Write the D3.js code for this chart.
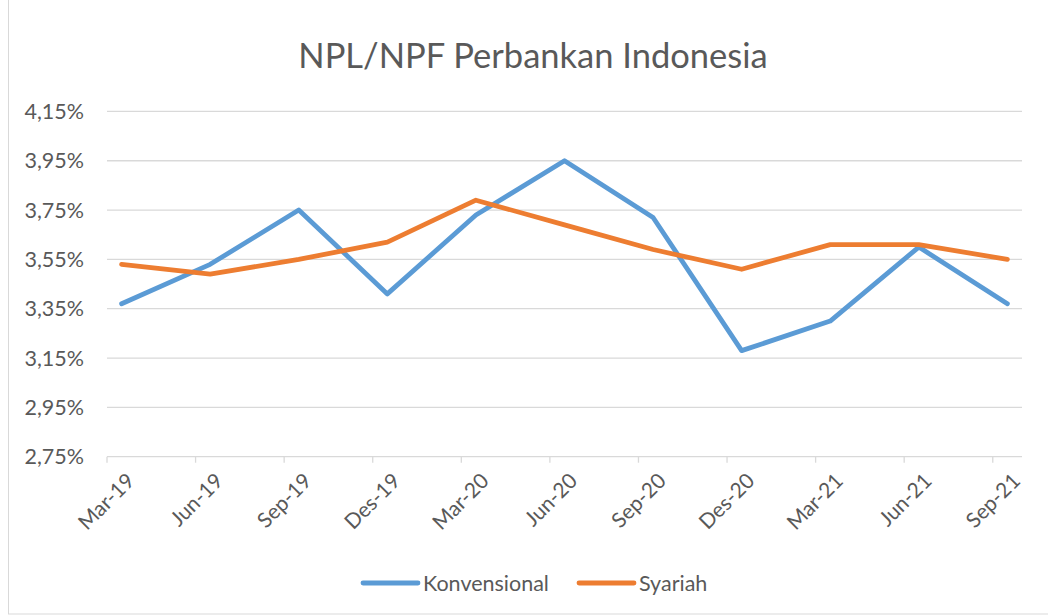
<!DOCTYPE html>
<html>
<head>
<meta charset="utf-8">
<script src="https://cdn.jsdelivr.net/npm/d3@7"></script>
<style>
  html, body { margin: 0; padding: 0; background: #fff; }
  svg text { font-family: Lato, "Open Sans", sans-serif; fill: #595959; }
</style>
</head>
<body>
<div id="chart"></div>
<script>
// data
var categories = ["Mar-19", "Jun-19", "Sep-19", "Des-19", "Mar-20", "Jun-20",
                  "Sep-20", "Des-20", "Mar-21", "Jun-21", "Sep-21"];
var konvensional = [3.37, 3.53, 3.75, 3.41, 3.73, 3.95, 3.72, 3.18, 3.30, 3.60, 3.37];
var syariah      = [3.53, 3.49, 3.55, 3.62, 3.79, 3.69, 3.59, 3.51, 3.61, 3.61, 3.55];
var yTicks = [2.75, 2.95, 3.15, 3.35, 3.55, 3.75, 3.95, 4.15];
var seriesNames = ["Konvensional", "Syariah"];
var seriesColors = ["#5b9bd5", "#ed7d31"];

var W = 1048, H = 615;
var L = 107, R = 1022, T = 111.4, B = 456.7;

var svg = d3.select("#chart").append("svg")
  .attr("width", W)
  .attr("height", H);

// chart frame
svg.append("rect")
  .attr("x", 8.5).attr("y", -1)
  .attr("width", W).attr("height", H)
  .attr("fill", "#fff")
  .attr("stroke", "#d9d9d9");

// date-like axis: ticks sit half a month before each point
var pad = 0.165;
var x = d3.scaleLinear().domain([-pad, categories.length - 1 + pad]).range([L, R]);
var y = d3.scaleLinear().domain([2.75, 4.15]).range([B, T]);

svg.append("text")
  .attr("x", 533).attr("y", 68)
  .attr("text-anchor", "middle")
  .style("font-size", "34.5px")
  .text("NPL/NPF Perbankan Indonesia");

// gridlines
svg.append("g").selectAll("line")
  .data(yTicks.slice(1))
  .enter().append("line")
  .attr("x1", L).attr("x2", R)
  .attr("y1", function(d) { return y(d); })
  .attr("y2", function(d) { return y(d); })
  .attr("stroke", "#d9d9d9")
  .attr("stroke-width", 1.3);

// y labels
svg.append("g").selectAll("text")
  .data(yTicks)
  .enter().append("text")
  .attr("x", 84)
  .attr("y", function(d) { return y(d); })
  .attr("dy", "0.36em")
  .attr("text-anchor", "end")
  .style("font-size", "21.5px")
  .text(function(d) { return d.toFixed(2).replace(".", ",") + "%"; });

// x axis line + ticks
svg.append("line")
  .attr("x1", L).attr("x2", R)
  .attr("y1", B).attr("y2", B)
  .attr("stroke", "#d9d9d9")
  .attr("stroke-width", 1.3);

svg.append("g").selectAll("line")
  .data(categories)
  .enter().append("line")
  .attr("x1", function(d, i) { return x(i - pad); })
  .attr("x2", function(d, i) { return x(i - pad); })
  .attr("y1", B).attr("y2", B + 6)
  .attr("stroke", "#d9d9d9")
  .attr("stroke-width", 1.3);

// x labels
svg.append("g").selectAll("text")
  .data(categories)
  .enter().append("text")
  .attr("transform", function(d, i) {
    return "translate(" + (x(i) + 9) + ",477) rotate(-45)";
  })
  .attr("text-anchor", "end")
  .attr("dy", "0.35em")
  .style("font-size", "21px")
  .text(String);

// lines
var line = d3.line()
  .x(function(d, i) { return x(i); })
  .y(function(d) { return y(d); });

[konvensional, syariah].forEach(function(s, k) {
  svg.append("path")
    .datum(s)
    .attr("d", line)
    .attr("fill", "none")
    .attr("stroke", seriesColors[k])
    .attr("stroke-width", 4.8)
    .attr("stroke-linejoin", "round")
    .attr("stroke-linecap", "round");
});

// legend
var legendX = [363, 579];
var leg = svg.append("g").selectAll("g")
  .data(seriesNames)
  .enter().append("g")
  .attr("transform", function(d, i) { return "translate(" + legendX[i] + ",583)"; });

leg.append("line")
  .attr("x1", 0).attr("x2", 55)
  .attr("stroke", function(d, i) { return seriesColors[i]; })
  .attr("stroke-width", 4.8)
  .attr("stroke-linecap", "round");

leg.append("text")
  .attr("x", 60)
  .attr("dy", "0.36em")
  .style("font-size", "21.5px")
  .text(String);
</script>
</body>
</html>
